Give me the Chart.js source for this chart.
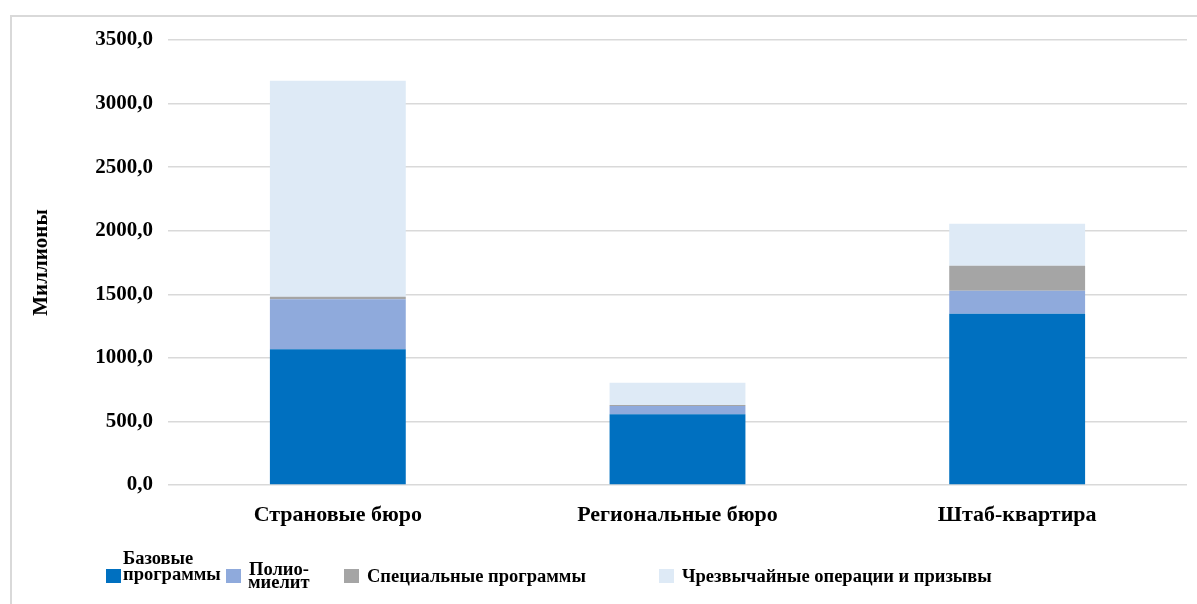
<!DOCTYPE html>
<html>
<head>
<meta charset="utf-8">
<script src="https://cdn.jsdelivr.net/npm/chart.js@4/dist/chart.umd.min.js"></script>
<style>
  html, body { margin:0; padding:0; background:#fff; }
  #wrap { position:relative; width:1197px; height:604px; overflow:hidden; }
  #frame { position:absolute; left:10px; top:15px; width:1300px; height:700px; border-top:2px solid #d9d9d9; border-left:2px solid #d9d9d9; pointer-events:none; }
  canvas { position:absolute; left:0; top:0; }
  .lg { position:absolute; font-family:"Liberation Serif","Times New Roman",serif; font-weight:bold; font-size:18.5px; line-height:19px; color:#000; white-space:nowrap; }
  .sw { position:absolute; width:15px; height:14px; }
</style>
</head>
<body>
<div id="wrap">
  <canvas id="c" width="1197" height="604"></canvas>
  <div id="frame"></div>
  <div id="legend"></div>
</div>
<script>
const categories = ['Страновые бюро', 'Региональные бюро', 'Штаб-квартира'];
const seriesNames = ['Базовые программы', 'Полиомиелит', 'Специальные программы', 'Чрезвычайные операции и призывы'];
const legendLines = [['Базовые', 'программы'], ['Полио-', 'миелит'], ['Специальные программы'], ['Чрезвычайные операции и призывы']];
const baseValues = [1067, 556, 1346];
const polioValues = [393, 66, 181];
const specialValues = [20, 8, 197];
const emergencyValues = [1700, 175, 330];
const yTickLabels = ['0,0', '500,0', '1000,0', '1500,0', '2000,0', '2500,0', '3000,0', '3500,0'];
const colors = ['#0070C0', '#8FAADC', '#A5A5A5', '#DEEAF6'];

const seriesValues = [baseValues, polioValues, specialValues, emergencyValues];
const fam = '"Liberation Serif","Times New Roman",serif';
const axisFont = { family: fam, size: 21, weight: 'bold' };
const catFont = { family: fam, size: 22, weight: 'bold' };

new Chart(document.getElementById('c').getContext('2d'), {
  type: 'bar',
  data: {
    labels: categories,
    datasets: seriesNames.map((n, i) => ({
      label: n,
      data: seriesValues[i],
      backgroundColor: colors[i],
      borderWidth: 0,
      categoryPercentage: 1.0,
      barPercentage: 0.4
    }))
  },
  options: {
    responsive: false,
    animation: false,
    layout: { padding: { left: 0, right: 10, top: 40, bottom: 0 } },
    plugins: { legend: { display: false }, tooltip: { enabled: false } },
    scales: {
      x: {
        stacked: true,
        grid: { display: false, drawTicks: false },
        border: { display: false },
        ticks: { font: catFont, color: '#000', padding: 17, maxRotation: 0 },
        afterFit(s) { s.height = 119; }
      },
      y: {
        stacked: true,
        min: 0, max: 3500,
        ticks: {
          stepSize: 500,
          font: axisFont,
          color: '#000',
          padding: 15,
          callback: (v, i) => yTickLabels[i]
        },
        grid: { color: '#d9d9d9', lineWidth: 1.5, drawTicks: false },
        border: { display: false },
        title: { display: true, text: 'Миллионы', font: axisFont, color: '#000', padding: { top: 29, bottom: 0 } },
        afterFit(s) { s.width = 168; }
      }
    }
  }
});

// HTML legend
const legendPos = [
  { sw: [106, 569], lines: [[123, 549], [123, 565]] },
  { sw: [226, 569], lines: [[249, 560], [248, 573]] },
  { sw: [344, 569], lines: [[367, 567]] },
  { sw: [659, 569], lines: [[682, 567]] }
];
const lg = document.getElementById('legend');
legendLines.forEach((lines, i) => {
  const sw = document.createElement('div');
  sw.className = 'sw';
  sw.style.left = legendPos[i].sw[0] + 'px';
  sw.style.top = legendPos[i].sw[1] + 'px';
  sw.style.background = colors[i];
  lg.appendChild(sw);
  lines.forEach((t, j) => {
    const d = document.createElement('div');
    d.className = 'lg';
    d.textContent = t;
    d.style.left = legendPos[i].lines[j][0] + 'px';
    d.style.top = legendPos[i].lines[j][1] + 'px';
    lg.appendChild(d);
  });
});
</script>
</body>
</html>
